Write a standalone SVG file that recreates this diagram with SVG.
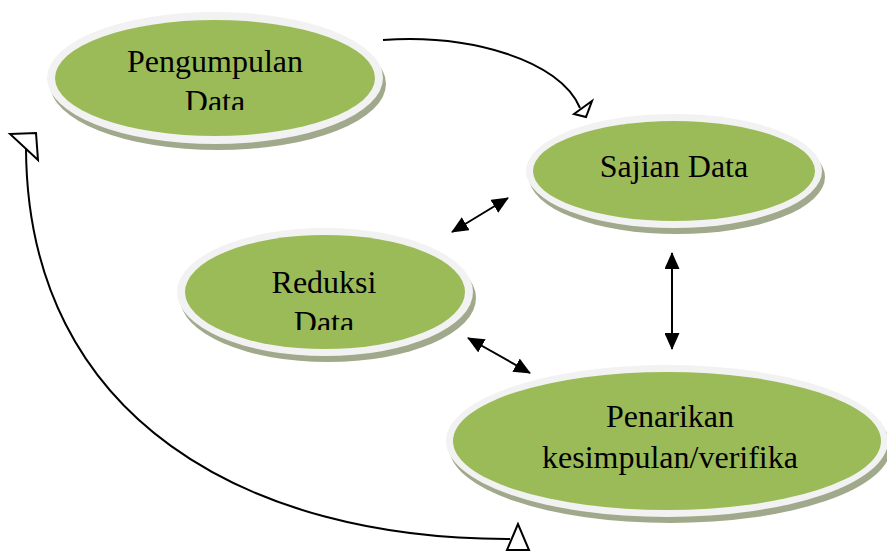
<svg xmlns="http://www.w3.org/2000/svg" width="887" height="552" viewBox="0 0 887 552">
<style>
.shadow{fill:#a0a98b}
.rim{fill:#f2f2f2}
.core{fill:#9bbb59}
.lbl{font-family:"Liberation Serif","Times New Roman",serif;font-size:32px;fill:#000;text-anchor:middle}
.con{fill:none;stroke:#000;stroke-width:2}
.open{fill:#fff;stroke:#000;stroke-width:2;stroke-linejoin:miter}
</style>
<defs>
<marker id="solid" viewBox="0 0 17 15" refX="16" refY="7.5" markerWidth="17" markerHeight="15" markerUnits="userSpaceOnUse" orient="auto-start-reverse">
<path d="M0,0 L17,7.5 L0,15 Z" fill="#000"/>
</marker>
<filter id="soft" x="-5%" y="-5%" width="110%" height="115%"><feGaussianBlur stdDeviation="0.6"/></filter>
<clipPath id="c1"><rect x="40" y="30" width="350" height="80"/></clipPath>
<clipPath id="c3"><rect x="170" y="250" width="310" height="80"/></clipPath>
</defs>
<rect width="887" height="552" fill="#fff"/>

<g id="connectors">
<path class="con" d="M383,40 C470,34 560,60 580,108"/>
<polygon class="open" points="574,114 592,101 586,117"/>
<path class="con" d="M26,148 C27,420 250,540 510,539"/>
<polygon class="open" points="10,134 36,133 38,160"/>
<polygon class="open" points="518,524 507,550 529,550"/>
<line class="con" x1="452" y1="232" x2="508" y2="198" marker-start="url(#solid)" marker-end="url(#solid)"/>
<line class="con" x1="672" y1="253" x2="672" y2="349" marker-start="url(#solid)" marker-end="url(#solid)"/>
<line class="con" x1="468" y1="338" x2="530" y2="373" marker-start="url(#solid)" marker-end="url(#solid)"/>
</g>

<g id="node-pengumpulan">
<ellipse class="shadow" cx="218" cy="84" rx="168" ry="66" filter="url(#soft)"/>
<ellipse class="rim" cx="215" cy="78" rx="168" ry="66"/>
<ellipse class="core" cx="215" cy="78" rx="160" ry="58"/>
<g clip-path="url(#c1)">
<text class="lbl" x="215" y="72">Pengumpulan</text>
<text class="lbl" x="215" y="112">Data</text>
</g>
</g>

<g id="node-sajian">
<ellipse class="shadow" cx="677" cy="177" rx="148" ry="57" filter="url(#soft)"/>
<ellipse class="rim" cx="674" cy="171" rx="148" ry="57"/>
<ellipse class="core" cx="674" cy="171" rx="141" ry="50"/>
<text class="lbl" x="674" y="177">Sajian Data</text>
</g>

<g id="node-reduksi">
<ellipse class="shadow" cx="328" cy="298" rx="148" ry="64" filter="url(#soft)"/>
<ellipse class="rim" cx="325" cy="292" rx="148" ry="64"/>
<ellipse class="core" cx="325" cy="292" rx="140" ry="57"/>
<g clip-path="url(#c3)">
<text class="lbl" x="324" y="293">Reduksi</text>
<text class="lbl" x="324" y="333">Data</text>
</g>
</g>

<g id="node-penarikan">
<ellipse class="shadow" cx="670" cy="447" rx="221" ry="76" filter="url(#soft)"/>
<ellipse class="rim" cx="667" cy="441" rx="221" ry="76"/>
<ellipse class="core" cx="667" cy="441" rx="214" ry="69"/>
<text class="lbl" x="670" y="427">Penarikan</text>
<text class="lbl" x="670" y="468">kesimpulan/verifika</text>
</g>
</svg>
